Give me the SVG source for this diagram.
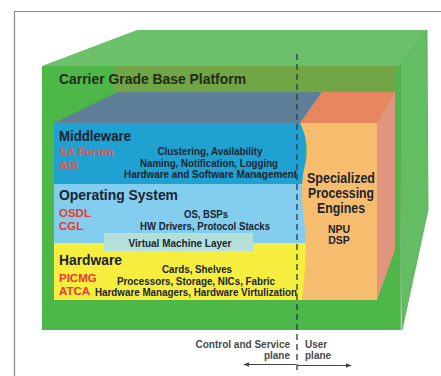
<svg xmlns="http://www.w3.org/2000/svg" width="441" height="376" viewBox="0 0 441 376">
  <style>
    text { font-family: "Liberation Sans", Arial, sans-serif; font-weight: bold; }
    .title { font-size: 14px; fill: #1b2430; }
    .red { font-size: 11.5px; fill: #e8392f; }
    .redsoft { font-size: 11.5px; fill: #e6574c; }
    .item { font-size: 10.5px; fill: #1b2430; text-anchor: middle; }
    .plane { font-size: 10px; fill: #4a4a4a; }
  </style>
  <defs>
    <marker id="arrowhead" viewBox="0 0 10 10" refX="9" refY="5" markerWidth="6" markerHeight="6" orient="auto-start-reverse">
      <path d="M0,1 L10,5 L0,9 Z" fill="#444"/>
    </marker>
  </defs>

  <!-- page frame -->
  <path d="M14.5,376 V11.5 H441" fill="none" stroke="#8a8a8a" stroke-width="1.2"/>

  <!-- carrier grade base platform box -->
  <g id="platform">
    <polygon points="42,66 137,30 427,30 400,66" fill="#6cc06a"/>
    <polygon points="400,66 427,30 428,210 402,330" fill="#64bd63" stroke="#58a858" stroke-width="0.8"/>
    <rect x="42" y="66" width="358" height="264" fill="#4db849"/>
    <rect x="113" y="66" width="283" height="26" fill="#71a545"/>
    <line x1="43" y1="328" x2="64" y2="303" stroke="#5fae5a" stroke-width="0.8"/>
    <line x1="400.5" y1="66" x2="400.5" y2="330" stroke="#56a552" stroke-width="0.8"/>
    <text x="59" y="84" class="title" style="fill:#222b1a" textLength="187" lengthAdjust="spacingAndGlyphs">Carrier Grade Base Platform</text>
  </g>

  <!-- top of the software stack -->
  <g id="stack-top">
    <polygon points="54,123 118,92 322,92 300,123" fill="#5f7f98"/>
  </g>

  <g id="middleware">
    <rect x="54" y="123" width="252" height="61" fill="#1fa2d2"/>
    <text x="59" y="141" class="title" textLength="72" lengthAdjust="spacingAndGlyphs">Middleware</text>
    <text x="59" y="156" class="redsoft">SA Forum</text>
    <text x="59" y="169" class="redsoft">AIS</text>
    <text x="210" y="155" class="item" textLength="105" lengthAdjust="spacingAndGlyphs">Clustering, Availability</text>
    <text x="209" y="166.5" class="item" textLength="138" lengthAdjust="spacingAndGlyphs">Naming, Notification, Logging</text>
    <text x="210.5" y="178" class="item" textLength="173" lengthAdjust="spacingAndGlyphs">Hardware and Software Management</text>
  </g>

  <g id="operating-system">
    <rect x="54" y="184" width="252" height="59" fill="#83cdee"/>
    <text x="59" y="200" class="title" textLength="119" lengthAdjust="spacingAndGlyphs">Operating System</text>
    <text x="59" y="216.5" class="red">OSDL</text>
    <text x="59" y="229.5" class="red">CGL</text>
    <text x="206" y="218" class="item" textLength="44" lengthAdjust="spacingAndGlyphs">OS, BSPs</text>
    <text x="205" y="230" class="item" textLength="130" lengthAdjust="spacingAndGlyphs">HW Drivers, Protocol Stacks</text>
  </g>

  <g id="hardware">
    <rect x="54" y="243" width="252" height="57" fill="#f6ee3e"/>
    <text x="59" y="265" class="title" textLength="63" lengthAdjust="spacingAndGlyphs">Hardware</text>
    <text x="59" y="281.5" class="red">PICMG</text>
    <text x="59" y="294.5" class="red">ATCA</text>
    <text x="197" y="273" class="item" textLength="70" lengthAdjust="spacingAndGlyphs">Cards, Shelves</text>
    <text x="196" y="284.5" class="item" textLength="158" lengthAdjust="spacingAndGlyphs">Processors, Storage, NICs, Fabric</text>
    <text x="196" y="295.5" class="item" textLength="202" lengthAdjust="spacingAndGlyphs">Hardware Managers, Hardware Virtulization</text>
  </g>

  <g id="virtual-machine-layer">
    <rect x="104" y="233" width="149" height="18" fill="#b5e0da"/>
    <text x="180" y="246.5" class="item" textLength="103" lengthAdjust="spacingAndGlyphs">Virtual Machine Layer</text>
  </g>

  <g id="processing-engines">
    <polygon points="300,123 322,92 395,92 377,123" fill="#e8865f"/>
    <polygon points="377,123 395,92 395,250 377,300" fill="#e0957f"/>
    <path d="M300,123 H377 V300 H302 C306,265 307,240 304,220 C301,200 301,180 305,165 C309,150 306,135 300,123 Z" fill="#f7bd6e"/>
    <text x="341" y="183" class="title" text-anchor="middle" textLength="68" lengthAdjust="spacingAndGlyphs">Specialized</text>
    <text x="341" y="198" class="title" text-anchor="middle" textLength="66" lengthAdjust="spacingAndGlyphs">Processing</text>
    <text x="341" y="213" class="title" text-anchor="middle" textLength="48" lengthAdjust="spacingAndGlyphs">Engines</text>
    <text x="339" y="233" class="item">NPU</text>
    <text x="339" y="244" class="item">DSP</text>
  </g>

  <!-- plane divider and plane arrows -->
  <g id="connectors">
    <line x1="297" y1="54" x2="297" y2="373" stroke="#2c3a48" stroke-width="1.3" stroke-dasharray="6 4"/>
    <line x1="296" y1="364.5" x2="244" y2="364.5" stroke="#444" stroke-width="1" marker-end="url(#arrowhead)"/>
    <line x1="298" y1="365.5" x2="351" y2="365.5" stroke="#444" stroke-width="1" marker-end="url(#arrowhead)"/>
  </g>

  <g id="plane-labels">
    <text x="290" y="347.5" class="plane" text-anchor="end">Control and Service</text>
    <text x="290" y="358.5" class="plane" text-anchor="end">plane</text>
    <text x="305" y="348" class="plane">User</text>
    <text x="305" y="359" class="plane">plane</text>
  </g>
</svg>
